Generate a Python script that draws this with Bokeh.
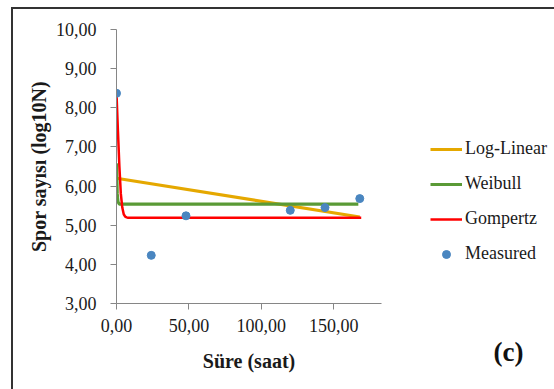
from bokeh.plotting import figure
from bokeh.models import Legend, LegendItem, Label, Range1d
from bokeh.embed import file_html
from bokeh.resources import INLINE

# ---- data ----
measured_t = [0, 24, 48, 120, 144, 168]
measured_y = [8.37, 4.23, 5.24, 5.38, 5.45, 5.68]

loglinear_t = [0, 168]
loglinear_y = [6.20, 5.21]

weibull_t = [0, 0.5, 1, 2, 167]
weibull_y = [6.58, 5.8, 5.6, 5.54, 5.54]

gompertz_t = [0, 1, 2, 3, 4, 5, 6, 7, 8, 169]
gompertz_y = [8.37, 7.4, 6.5, 5.8, 5.45, 5.28, 5.22, 5.2, 5.19, 5.19]

x_ticks = [0, 50, 100, 150]
x_tick_labels = ["0,00", "50,00", "100,00", "150,00"]
y_ticks = [3, 4, 5, 6, 7, 8, 9, 10]
y_tick_labels = ["3,00", "4,00", "5,00", "6,00", "7,00", "8,00", "9,00", "10,00"]

FONT = "Liberation Serif"
AXIS_COLOR = "#868686"

p = figure(width=541, height=380, output_backend="svg", toolbar_location=None,
           x_range=Range1d(0, 183), y_range=Range1d(3, 10),
           frame_width=265, frame_height=274,
           min_border_left=103, min_border_top=20, min_border_right=173, min_border_bottom=86,
           styles={"border-left": "2px solid #333333", "border-top": "2px solid #333333",
                   "margin-left": "11px", "margin-top": "7px"})
p.outline_line_color = None
p.grid.visible = False
p.background_fill_color = "white"
p.border_fill_color = "white"

r_ll = p.line(loglinear_t, loglinear_y, line_color="#E5A800", line_width=3.2)
r_wb = p.line(weibull_t, weibull_y, line_color="#5A9A36", line_width=3.2)
r_gp = p.line(gompertz_t, gompertz_y, line_color="#FF0000", line_width=2.5)
r_ms = p.scatter(measured_t, measured_y, size=8, fill_color="#4A86C0", line_color="#4A86C0")

for ax in (p.xaxis[0], p.yaxis[0]):
    ax.axis_line_color = AXIS_COLOR
    ax.major_tick_line_color = AXIS_COLOR
    ax.minor_tick_line_color = None
    ax.major_tick_in = 0
    ax.major_tick_out = 6
    ax.major_label_text_font = FONT
    ax.major_label_text_font_size = "18px"
    ax.major_label_text_color = "#1a1a1a"
    ax.axis_label_text_font = FONT
    ax.axis_label_text_font_size = "20px"
    ax.axis_label_text_font_style = "bold"
    ax.axis_label_text_color = "#1a1a1a"

p.xaxis.ticker = x_ticks
p.xaxis.major_label_overrides = dict(zip(x_ticks, x_tick_labels))
p.yaxis.ticker = y_ticks
p.yaxis.major_label_overrides = dict(zip(y_ticks, y_tick_labels))
p.xaxis.axis_label = "Süre (saat)"
p.yaxis.axis_label = "Spor sayısı (log10N)"
p.xaxis.major_label_standoff = 9
p.xaxis.axis_label_standoff = 15
p.yaxis.major_label_standoff = 14
p.yaxis.axis_label_standoff = 3

legend = Legend(items=[
    LegendItem(label="Log-Linear", renderers=[r_ll]),
    LegendItem(label="Weibull", renderers=[r_wb]),
    LegendItem(label="Gompertz", renderers=[r_gp]),
    LegendItem(label="Measured", renderers=[r_ms]),
], location=(49, 39))
legend.border_line_color = None
legend.background_fill_alpha = 0
legend.margin = 0
legend.padding = 0
legend.glyph_width = 32
legend.glyph_height = 20
legend.label_height = 20
legend.spacing = 14
legend.label_standoff = 3
legend.label_text_font = FONT
legend.label_text_font_size = "18px"
legend.label_text_color = "#1a1a1a"
p.add_layout(legend, "right")

lab = Label(x=493, y=340, x_units="canvas", y_units="canvas", text="(c)",
            text_font=FONT, text_font_size="27px", text_font_style="bold",
            text_align="center", text_baseline="middle", text_color="#111111")
p.add_layout(lab, "right")

open("out.html", "w").write(file_html(p, INLINE))
